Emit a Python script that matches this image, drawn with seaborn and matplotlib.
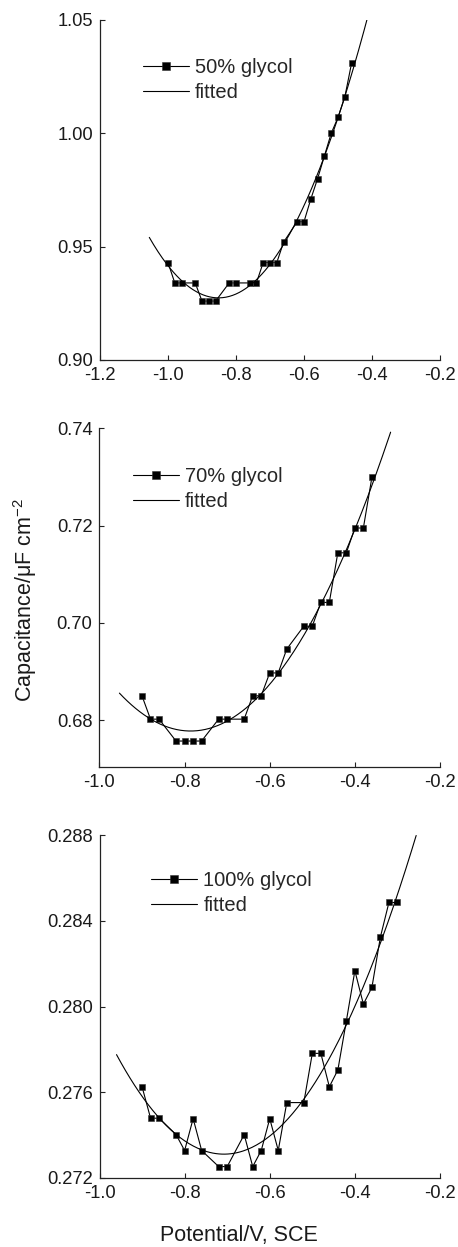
import numpy as np
import pandas as pd
import matplotlib
matplotlib.use('Agg')
import matplotlib.pyplot as plt
import seaborn as sns

# panel 1: 50% glycol
x50 = [-1.00, -0.98, -0.96, -0.92, -0.90, -0.88, -0.86, -0.82, -0.80, -0.76, -0.74,
       -0.72, -0.70, -0.68, -0.66, -0.62, -0.60, -0.58, -0.56, -0.54, -0.52, -0.50,
       -0.48, -0.46]
c50 = [0.943, 0.934, 0.934, 0.934, 0.926, 0.926, 0.926, 0.934, 0.934, 0.934, 0.934,
       0.943, 0.943, 0.943, 0.952, 0.961, 0.961, 0.971, 0.980, 0.990, 1.000, 1.007,
       1.016, 1.031]
fit50_range = [-1.055, -0.414]

# panel 2: 70% glycol
x70 = [-0.90, -0.88, -0.86, -0.82, -0.80, -0.78, -0.76, -0.72, -0.70, -0.66, -0.64,
       -0.62, -0.60, -0.58, -0.56, -0.52, -0.50, -0.48, -0.46, -0.44, -0.42, -0.40,
       -0.38, -0.36]
c70 = [0.6850, 0.6802, 0.6802, 0.6757, 0.6757, 0.6757, 0.6757, 0.6802, 0.6802, 0.6802,
       0.6850, 0.6850, 0.6897, 0.6897, 0.6946, 0.6993, 0.6993, 0.7042, 0.7042, 0.7144,
       0.7144, 0.7195, 0.7195, 0.7299]
fit70_range = [-0.953, -0.316]

# panel 3: 100% glycol
x100 = [-0.90, -0.88, -0.86, -0.82, -0.80, -0.78, -0.76, -0.72, -0.70, -0.66, -0.64,
        -0.62, -0.60, -0.58, -0.56, -0.52, -0.50, -0.48, -0.46, -0.44, -0.42, -0.40,
        -0.38, -0.36, -0.34, -0.32, -0.30]
c100 = [0.27625, 0.27478, 0.27478, 0.27401, 0.27327, 0.27476, 0.27327, 0.27252, 0.27252,
        0.27401, 0.27252, 0.27327, 0.27476, 0.27327, 0.27551, 0.27551, 0.27781, 0.27781,
        0.27625, 0.27703, 0.27933, 0.28167, 0.28011, 0.28089, 0.28325, 0.28486, 0.28486]
fit100_range = [-0.960, -0.256]

labels = ['50% glycol', '70% glycol', '100% glycol']

sns.set_style('ticks')
plt.rcParams['font.family'] = ['Liberation Sans', 'DejaVu Sans']
plt.rcParams['mathtext.fontset'] = 'custom'
plt.rcParams['mathtext.rm'] = 'Liberation Sans'
plt.rcParams['mathtext.it'] = 'Liberation Sans:italic'

fig = plt.figure(figsize=(4.58, 12.47), dpi=100)

panels = [
    dict(x=x50, y=c50, fr=fit50_range, label=labels[0],
         rect=[100/458, 1-360/1247, 340/458, 340/1247],
         xlim=(-1.2, -0.2), xticks=[-1.2, -1.0, -0.8, -0.6, -0.4, -0.2],
         ylim=(0.90, 1.05), yticks=[0.90, 0.95, 1.00, 1.05], yfmt='{:.2f}',
         leg=(0.126, 0.888)),
    dict(x=x70, y=c70, fr=fit70_range, label=labels[1],
         rect=[99.4/458, 1-767.3/1247, 340.6/458, 339/1247],
         xlim=(-1.0, -0.2), xticks=[-1.0, -0.8, -0.6, -0.4, -0.2],
         ylim=(0.6703, 0.74), yticks=[0.68, 0.70, 0.72, 0.74], yfmt='{:.2f}',
         leg=(0.098, 0.886)),
    dict(x=x100, y=c100, fr=fit100_range, label=labels[2],
         rect=[99.5/458, 1-1177.7/1247, 340.5/458, 342.4/1247],
         xlim=(-1.0, -0.2), xticks=[-1.0, -0.8, -0.6, -0.4, -0.2],
         ylim=(0.272, 0.288), yticks=[0.272, 0.276, 0.280, 0.284, 0.288], yfmt='{:.3f}',
         leg=(0.151, 0.895)),
]

for p in panels:
    ax = fig.add_axes(p['rect'])
    df = pd.DataFrame({'x': p['x'], 'y': p['y']})
    # quadratic fit of the measured points
    coef = np.polyfit(df['x'], df['y'], 2)
    xf = np.linspace(p['fr'][0], p['fr'][1], 200)
    fit = pd.DataFrame({'x': xf, 'y': np.polyval(coef, xf)})

    sns.lineplot(data=df, x='x', y='y', ax=ax, color='black', lw=0.8,
                 marker='s', markersize=4.2, markeredgecolor='#333333',
                 markeredgewidth=0.4, label=p['label'], sort=False)
    sns.lineplot(data=fit, x='x', y='y', ax=ax, color='black', lw=0.8,
                 label='fitted', sort=False)

    ax.set_xlim(*p['xlim'])
    ax.set_ylim(*p['ylim'])
    ax.set_xticks(p['xticks'])
    ax.set_xticklabels(['{:.1f}'.format(v) for v in p['xticks']])
    ax.set_yticks(p['yticks'])
    ax.set_yticklabels([p['yfmt'].format(v) for v in p['yticks']])
    ax.set_xlabel('')
    ax.set_ylabel('')
    sns.despine(ax=ax)
    for s in ['left', 'bottom']:
        ax.spines[s].set_linewidth(0.9)
        ax.spines[s].set_color('#222222')
    ax.tick_params(direction='in', length=3.5, width=0.8, colors='#222222',
                   labelsize=13.2, labelcolor='#1a1a1a', pad=5)

    ax.legend(loc='upper left', bbox_to_anchor=p['leg'], frameon=False,
              fontsize=14.5, handlelength=2.3, handletextpad=0.3,
              labelspacing=0.3, borderpad=0, borderaxespad=0, markerscale=1.5)

fig.text(25/458, 1-600/1247, 'Capacitance/\u03bcF cm$^{-2}$', rotation=90,
         ha='center', va='center', fontsize=15.5, color='#1a1a1a')
fig.text(239/458, 1-1235/1247, 'Potential/V, SCE', ha='center', va='center',
         fontsize=15.5, color='#1a1a1a')

fig.savefig('out.png', dpi=100)
